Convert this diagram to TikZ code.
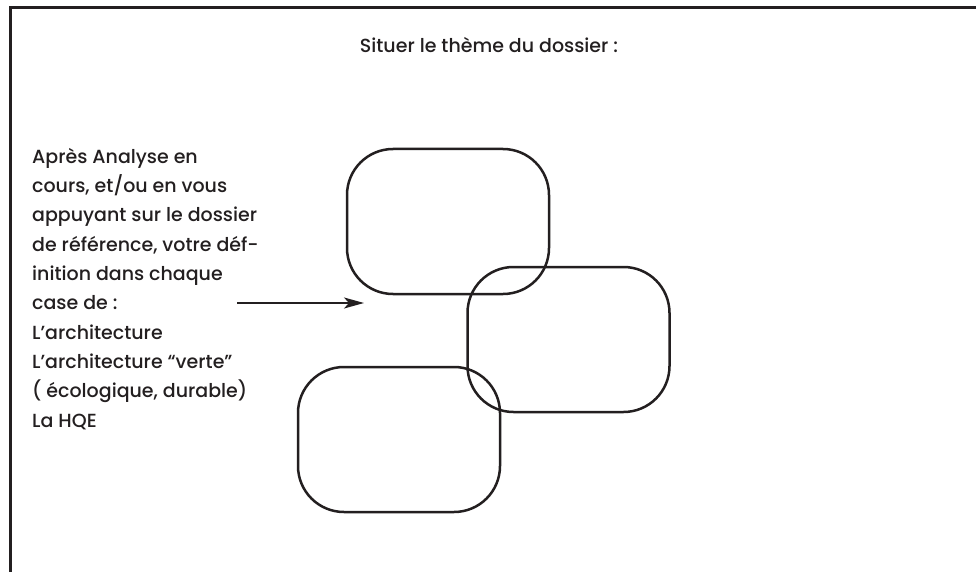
\documentclass[tikz,border=0pt]{standalone}
\usepackage{fontspec}
\setmainfont{Poppins}[UprightFont={* Medium}]
\usetikzlibrary{arrows.meta}
\definecolor{ink}{HTML}{231F20}
\begin{document}
\begin{tikzpicture}[x=1pt,y=-1pt,
  box/.style={draw=ink, line width=2.5pt, rounded corners=46pt, minimum width=202pt, minimum height=145pt, inner sep=0pt},
  txt/.style={text=ink, inner sep=0pt, font=\fontsize{19}{29.3}\selectfont}]
\useasboundingbox (0,0) rectangle (976,572);
\draw[ink, line width=3pt] (976,8) -- (10,8) -- (10,572);
\node[txt, anchor=base] (title) at (489,53) {Situer le thème du dossier :};
\node[txt, anchor=base west, align=left] (info) at (32,427) {Après Analyse en\\cours, et/ou en vous\\appuyant sur le dossier\\de référence, votre déf-\\inition dans chaque\\case de :\\L’architecture\\L’architecture “verte”\\( écologique, durable)\\La HQE};
\node[box] (b1) at (448,221.5) {};
\node[box] (b2) at (568.5,339.5) {};
\node[box] (b3) at (399,439.5) {};
\coordinate (as) at (237,303);
\coordinate (ae) at (364,303);
\draw[ink, line width=2pt, -{Stealth[length=20pt,width=11pt,inset=5pt]}] (as) -- (ae);
\end{tikzpicture}
\end{document}
